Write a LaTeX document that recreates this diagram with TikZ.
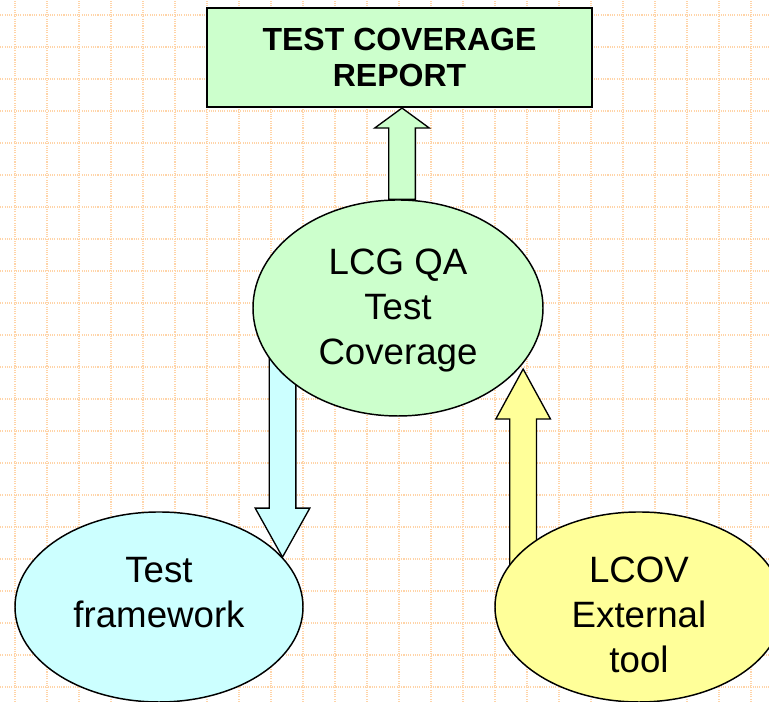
\documentclass[tikz,border=0pt]{standalone}
\usepackage{fontspec}
\setmainfont{Liberation Sans}
\usetikzlibrary{calc, shapes.geometric, backgrounds}

\definecolor{gridorange}{HTML}{FFD4A8}
\definecolor{reportgreen}{HTML}{CCFFCC}
\definecolor{testcyan}{HTML}{CCFFFF}
\definecolor{lcovyellow}{HTML}{FFFF99}

% Block arrow: colour, tail, tip, head length
\newcommand{\fatarrow}[4]{%
    \draw[fatarrow, fill=#1] let \p1=(#2), \p2=(#3), \p3=($(#3)!#4!(#2)$) in
        (\p2) -- (\x2-20.5pt,\y3) -- (\x2-10pt,\y3) -- (\x2-10pt,\y1)
        -- (\x2+10pt,\y1) -- (\x2+10pt,\y3) -- (\x2+20.5pt,\y3) -- cycle;
}

\begin{document}
\begin{tikzpicture}[x=0.75pt, y=0.75pt,
    gridline/.style={draw=gridorange, line width=0.8pt, dash pattern=on 0.8pt off 0.9pt},
    blob/.style={ellipse, draw, line width=1.1pt, inner sep=0pt,
        minimum width=216pt, minimum height=142.5pt},
    txt/.style={font=\fontsize{27.5}{34}\selectfont, align=center},
    fatarrow/.style={draw, line width=1pt, line join=miter}]
    \clip (0,0) rectangle (769,702);

    % Report box
    \node[draw, line width=1.6pt, fill=reportgreen, minimum width=288.75pt,
        minimum height=74.25pt, align=center,
        font=\fontsize{24}{27}\selectfont\bfseries] (report) at (399.5,644.5)
        {TEST COVERAGE\\REPORT};

    % Ellipses
    \node[blob, fill=reportgreen, minimum width=217.5pt, minimum height=162pt]
        (main) at (398,394) {};
    \node[txt] (mainlbl) at ([yshift=-2pt]main.center) {LCG QA\\Test\\Coverage};
    \node[blob, fill=testcyan] (test) at (159,95) {};
    \node[txt] (testlbl) at ([yshift=11pt]test.center) {Test\\framework};
    \node[blob, fill=lcovyellow] (lcov) at (639,95) {};
    \node[txt] (lcovlbl) at ([yshift=-6pt]lcov.center) {LCOV\\External\\tool};

    % Arrow ends
    \coordinate (uptip) at ([xshift=3pt]main.north |- report.south);
    \coordinate (uptail) at ([xshift=3pt]main.north);
    \coordinate (downtip) at (test.22);
    \coordinate (downtail) at (downtip |- main.center);
    \coordinate (lcovtip) at ([yshift=-4pt]main.-24);
    \coordinate (lcovtail) at (lcovtip |- lcov.center);

    \begin{scope}[on background layer]
        % Grid
        \foreach \gx in {15,47,...,751}
        {
            \draw[gridline] (\gx,0) -- (\gx,702);
        }
        \foreach \gy in {15,47,...,687}
        {
            \draw[gridline] (0,\gy) -- (769,\gy);
        }
        % Arrows
        \fatarrow{reportgreen}{uptail}{uptip}{15pt}
        \fatarrow{testcyan}{downtail}{downtip}{36.75pt}
        \fatarrow{lcovyellow}{lcovtail}{lcovtip}{37.5pt}
    \end{scope}
\end{tikzpicture}
\end{document}
